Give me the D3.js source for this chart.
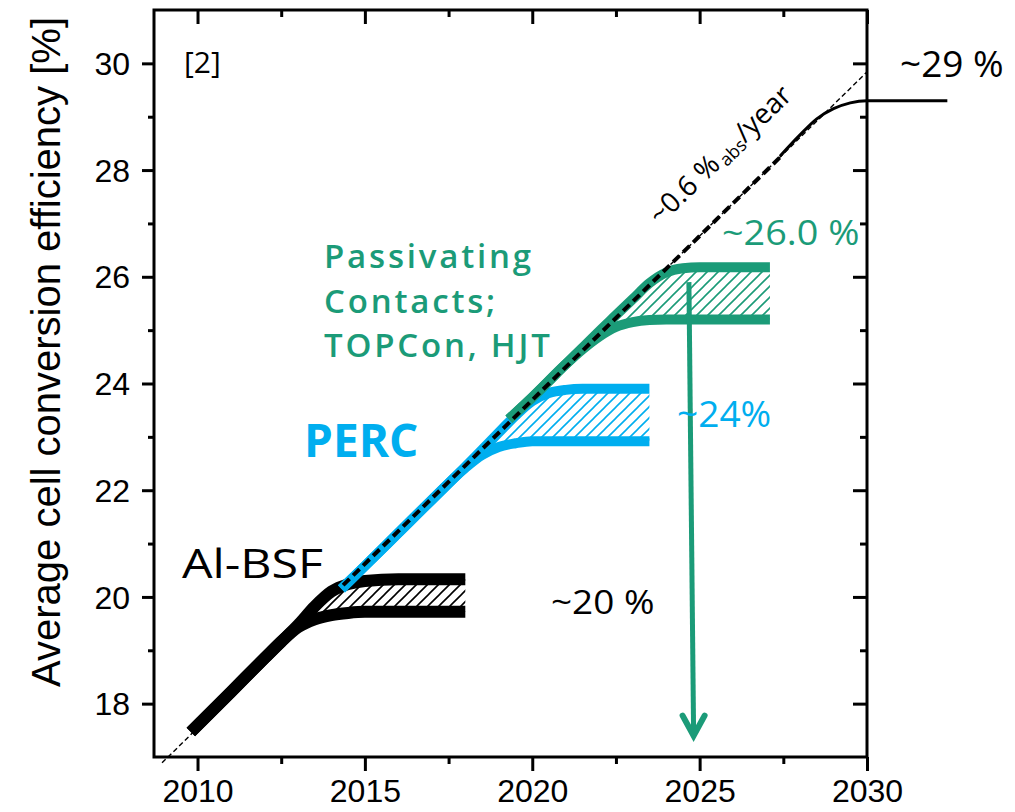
<!DOCTYPE html>
<html><head><meta charset="utf-8">
<script src="https://cdn.jsdelivr.net/npm/d3@7"></script>
<style>
html,body{margin:0;padding:0;background:#fff;}
svg{display:block;}
</style>
</head><body>
<svg id="chart" width="1015" height="812"></svg>
<script>
// ---------- data ----------
const xMajorTicks = [2010, 2015, 2020, 2025, 2030];
const xMinorTicks = [2012.5, 2017.5, 2022.5, 2027.5];
const yMajorTicks = [18, 20, 22, 24, 26, 28, 30];
const yMinorTicks = [19, 21, 23, 25, 27, 29];

const trendYears = [2008.94, 2030];
const trendValues = [16.89, 29.84];
const trendBoldYears = [2014.35, 2027.5];
const trendBoldValues = [20.22, 28.3];

const endYears = [2027.4, 2028, 2028.5, 2029, 2029.5, 2030, 2032.4];
const endValues = [28.26, 28.66, 28.96, 29.15, 29.26, 29.3, 29.3];

const alYears = [2009.8, 2011, 2012, 2012.5, 2013, 2013.5, 2014, 2014.5, 2015, 2016, 2017, 2018];
const alUpper = [17.47, 18.22, 18.85, 19.16, 19.47, 19.82, 20.1, 20.24, 20.3, 20.33, 20.33, 20.33];
const alLower = [17.47, 18.22, 18.85, 19.16, 19.43, 19.58, 19.66, 19.7, 19.72, 19.72, 19.72, 19.72];

const percYears = [2014.3, 2015, 2016, 2017, 2018, 2018.5, 2019, 2019.5, 2020, 2020.5, 2021, 2021.5, 2022.5, 2023.5];
const percUpper = [20.15, 20.58, 21.2, 21.82, 22.44, 22.76, 23.08, 23.4, 23.67, 23.82, 23.88, 23.9, 23.9, 23.9];
const percLower = [20.15, 20.58, 21.2, 21.82, 22.42, 22.66, 22.81, 22.88, 22.92, 22.92, 22.92, 22.92, 22.92, 22.92];

const pcYears = [2019.3, 2020, 2021, 2021.5, 2022, 2022.5, 2023, 2023.5, 2024, 2024.5, 2025, 2026, 2027.1];
const pcUpper = [23.33, 23.74, 24.36, 24.67, 24.98, 25.28, 25.58, 25.88, 26.08, 26.16, 26.18, 26.18, 26.18];
const pcLower = [23.33, 23.74, 24.36, 24.64, 24.88, 25.06, 25.15, 25.19, 25.2, 25.2, 25.2, 25.2, 25.2];

const arrowYears = [2024.68, 2024.82];
const arrowValues = [25.9, 17.4];

// ---------- setup ----------
const svg = d3.select("#chart");
const x = d3.scaleLinear().domain([2008.7, 2030]).range([154, 867]);
const y = d3.scaleLinear().domain([17, 31]).range([757, 10]);
const GREEN = "#1b9b78", BLUE = "#00aeef", BLACK = "#000";

const defs = svg.append("defs");
function hatch(id, color) {
  const p = defs.append("pattern").attr("id", id).attr("patternUnits", "userSpaceOnUse")
    .attr("width", 11).attr("height", 11);
  p.append("path").attr("d", "M-1,1 l2,-2 M0,11 l11,-11 M10,12 l2,-2")
    .attr("stroke", color).attr("stroke-width", 1.6);
}
hatch("hB", BLACK); hatch("hBl", BLUE); hatch("hG", GREEN);

// ---------- axes ----------
const W = 867 - 154, H = 757 - 10;
const axB = svg.append("g").attr("transform", "translate(0,757)")
  .call(d3.axisBottom(x).tickValues(xMajorTicks).tickSize(14).tickFormat(d3.format("d")));
svg.append("g").attr("transform", "translate(0,757)")
  .call(d3.axisBottom(x).tickValues(xMinorTicks).tickSize(7).tickFormat(""));
svg.append("g").attr("transform", "translate(0,10)")
  .call(d3.axisBottom(x).tickValues(xMajorTicks).tickSize(14).tickFormat(""));
svg.append("g").attr("transform", "translate(0,10)")
  .call(d3.axisBottom(x).tickValues(xMinorTicks).tickSize(7).tickFormat(""));
const axL = svg.append("g").attr("transform", "translate(154,0)")
  .call(d3.axisLeft(y).tickValues(yMajorTicks).tickSize(12).tickFormat(d3.format("d")));
svg.append("g").attr("transform", "translate(154,0)")
  .call(d3.axisLeft(y).tickValues(yMinorTicks).tickSize(6).tickFormat(""));
svg.append("g").attr("transform", "translate(867,0)")
  .call(d3.axisLeft(y).tickValues(yMajorTicks).tickSize(14).tickFormat(""));
svg.append("g").attr("transform", "translate(867,0)")
  .call(d3.axisLeft(y).tickValues(yMinorTicks).tickSize(7).tickFormat(""));
svg.selectAll(".domain").remove();
svg.selectAll(".tick line").attr("stroke", "#000").attr("stroke-width", 3);
axB.selectAll(".tick text").attr("font-family", "Liberation Sans, Arial, sans-serif")
  .attr("font-size", 32).attr("fill", "#000").attr("y", 22).attr("dy", "0.71em");
axL.selectAll(".tick text").attr("font-family", "Liberation Sans, Arial, sans-serif")
  .attr("font-size", 32).attr("fill", "#000").attr("x", -24).attr("dy", "0.35em");
svg.append("rect").attr("x", 154).attr("y", 10).attr("width", W).attr("height", H)
  .attr("fill", "none").attr("stroke", "#000").attr("stroke-width", 3);

svg.append("text").attr("transform", "translate(60,352) rotate(-90)")
  .attr("text-anchor", "middle").attr("font-family", "Liberation Sans Narrow, Arial Narrow, Liberation Sans, sans-serif")
  .attr("font-size", 40).attr("fill", "#000")
  .text("Average cell conversion efficiency [%]");

// ---------- marks ----------
const lineGen = d3.line().curve(d3.curveMonotoneX);
const pts = (xs, ys) => xs.map((d, i) => [x(d), y(ys[i])]);

// thin dashed trend
svg.append("path").attr("d", lineGen(pts(trendYears, trendValues)))
  .attr("fill", "none").attr("stroke", "#000").attr("stroke-width", 1.4).attr("stroke-dasharray", "5,3");

function band(years, up, lo, color, pat, width) {
  const area = d3.area().curve(d3.curveMonotoneX)
    .x((d, i) => x(years[i])).y0((d, i) => y(lo[i])).y1((d, i) => y(up[i]));
  svg.append("path").attr("d", area(years)).attr("fill", `url(#${pat})`);
  [up, lo].forEach(vals => {
    svg.append("path").attr("d", lineGen(pts(years, vals)))
      .attr("fill", "none").attr("stroke", color).attr("stroke-width", width).attr("stroke-linecap", "butt");
  });
}
band(alYears, alUpper, alLower, BLACK, "hB", 12);
band(percYears, percUpper, percLower, BLUE, "hBl", 10);
band(pcYears, pcUpper, pcLower, GREEN, "hG", 10);

// arrow
const aP = pts(arrowYears, arrowValues);
svg.append("line").attr("x1", aP[0][0]).attr("y1", aP[0][1]).attr("x2", aP[1][0]).attr("y2", aP[1][1] - 3)
  .attr("stroke", GREEN).attr("stroke-width", 5);
svg.append("path").attr("d", `M${aP[1][0] - 11},${aP[1][1] - 20} L${aP[1][0]},${aP[1][1]} L${aP[1][0] + 11},${aP[1][1] - 20}`)
  .attr("fill", "none").attr("stroke", GREEN).attr("stroke-width", 6).attr("stroke-linecap", "round").attr("stroke-linejoin", "miter");

// bold dashed trend
svg.append("path").attr("d", lineGen(pts(trendBoldYears, trendBoldValues)))
  .attr("fill", "none").attr("stroke", "#000").attr("stroke-width", 4).attr("stroke-dasharray", "9,5");
// saturating end curve
svg.append("path").attr("d", lineGen(pts(endYears, endValues)))
  .attr("fill", "none").attr("stroke", "#000").attr("stroke-width", 3);

// ---------- annotations ----------
const F = "Open Sans, Noto Sans, sans-serif";
function label(t, px, py, size, color, weight, sx) {
  return svg.append("text").attr("transform", `translate(${px},${py}) scale(${sx || 1},1)`)
    .attr("font-family", F).attr("font-size", size).attr("fill", color)
    .attr("font-weight", weight || 400).text(t);
}
label("[2]", 184, 73, 30, "#000");
label("~29 %", 900, 77, 37, "#000");
label("~26.0 %", 722, 245, 35, GREEN, 400, 1.08);
const pc = svg.append("text").attr("font-family", F).attr("font-size", 33).attr("fill", GREEN)
  .attr("font-weight", 600).attr("letter-spacing", 2.8);
[["Passivating", 268], ["Contacts;", 313], ["TOPCon, HJT", 357]].forEach(([t, py]) =>
  pc.append("tspan").attr("x", 324).attr("y", py).text(t));
label("PERC", 304, 457, 46, BLUE, 700);
label("~24%", 677, 427, 36, BLUE, 400, 1.03);
label("Al-BSF", 182, 578, 41, "#000", 400, 1.18);
label("~20 %", 551, 614, 33, "#000", 400, 1.12);

const rt = svg.append("text").attr("transform", "translate(660,226) rotate(-44)")
  .attr("font-family", F).attr("font-size", 28).attr("fill", "#000");
rt.append("tspan").text("~0.6 %");
rt.append("tspan").attr("font-size", 18).attr("dy", 4).attr("dx", 3).text("abs");
rt.append("tspan").attr("dy", -4).text("/year");
</script>
</body></html>
